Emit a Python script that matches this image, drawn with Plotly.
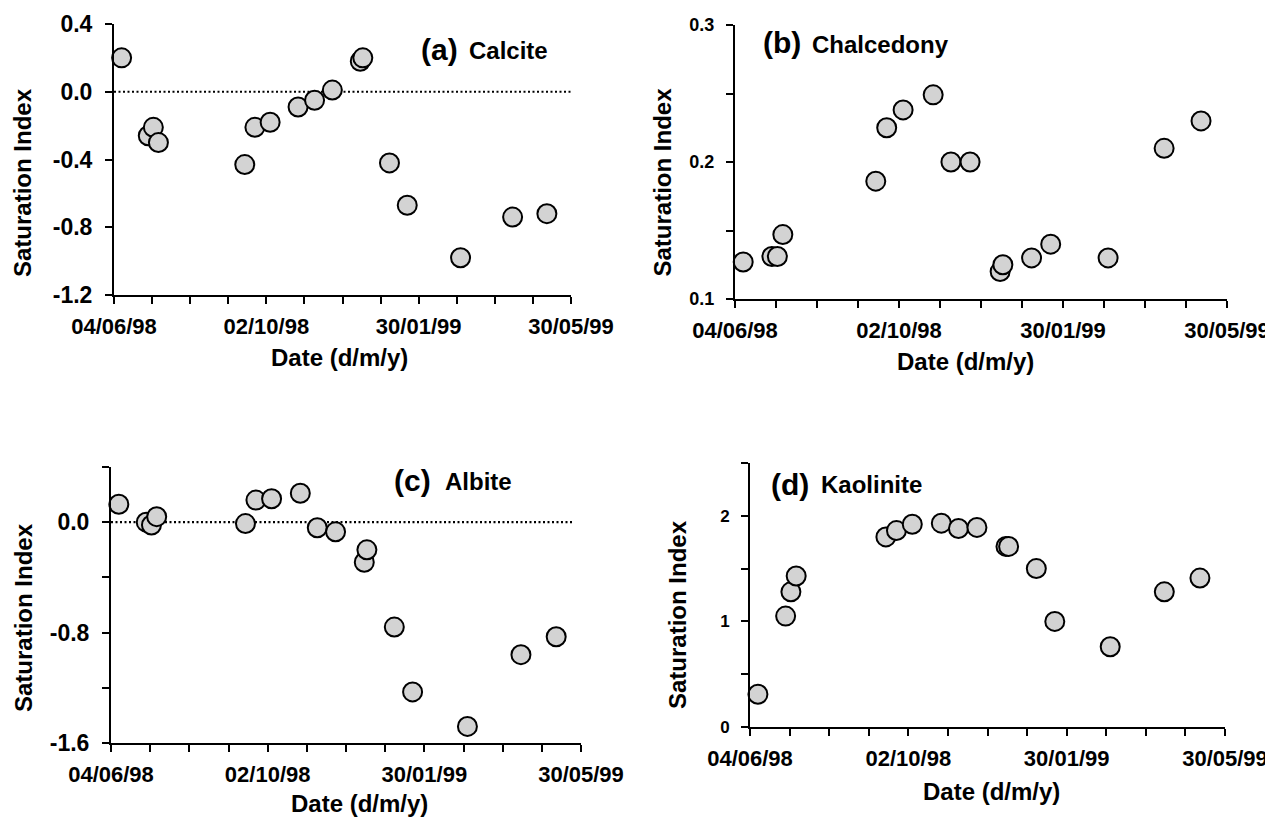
import plotly.graph_objects as go

# ---------------- data ----------------
SAMPLE_DATES = ['1998-06-10', '1998-07-01', '1998-07-05', '1998-07-09', '1998-09-15',
                '1998-09-23', '1998-10-05', '1998-10-27', '1998-11-09', '1998-11-23',
                '1998-12-15', '1998-12-17', '1999-01-07', '1999-01-21', '1999-03-04',
                '1999-04-14', '1999-05-11']
CALCITE = [0.20, -0.26, -0.21, -0.30, -0.43, -0.21, -0.18, -0.09, -0.05, 0.01,
           0.18, 0.20, -0.42, -0.67, -0.98, -0.74, -0.72]
CHALCEDONY = [0.127, 0.131, 0.131, 0.147, 0.186, 0.225, 0.238, 0.249, 0.200, 0.200,
              0.120, 0.125, 0.130, 0.140, 0.130, 0.210, 0.230]
ALBITE = [0.13, 0.00, -0.02, 0.04, -0.01, 0.16, 0.17, 0.21, -0.04, -0.07,
          -0.29, -0.20, -0.76, -1.23, -1.48, -0.96, -0.83]
KAOLINITE = [0.31, 1.05, 1.28, 1.43, 1.80, 1.86, 1.92, 1.93, 1.88, 1.89,
             1.71, 1.71, 1.50, 1.00, 0.76, 1.28, 1.41]

X_TICKS = ['1998-06-04', '1998-07-04', '1998-08-03', '1998-09-02', '1998-10-02',
           '1998-11-01', '1998-12-01', '1998-12-31', '1999-01-30', '1999-03-01',
           '1999-03-31', '1999-04-30', '1999-05-30']
X_LABELS = ['04/06/98', '', '', '', '02/10/98', '', '', '', '30/01/99', '', '', '', '30/05/99']
X_RANGE = ['1998-06-04', '1999-05-30']

YA_TICKS = [-1.2, -0.8, -0.4, 0.0, 0.4]
YA_LABELS = ['-1.2', '-0.8', '-0.4', '0.0', '0.4']
YB_TICKS = [0.1, 0.15, 0.2, 0.25, 0.3]
YB_LABELS = ['0.1', '', '0.2', '', '0.3']
YC_TICKS = [-1.6, -1.2, -0.8, -0.4, 0.0, 0.4]
YC_LABELS = ['-1.6', '', '-0.8', '', '0.0', '']
YD_TICKS = [0, 0.5, 1, 1.5, 2, 2.5]
YD_LABELS = ['0', '', '1', '', '2', '']

PANEL_LETTERS = ['(a)', '(b)', '(c)', '(d)']
MINERALS = ['Calcite', 'Chalcedony', 'Albite', 'Kaolinite']
X_TITLE = 'Date (d/m/y)'
Y_TITLE = 'Saturation Index'

# ---------------- layout helpers ----------------
W, H = 1273, 819
FONT = 'Liberation Sans, Arial, Helvetica, sans-serif'
TXT_SHIFT = 8  # annotation text renders a little below/right of its anchor


def px(x):
    return x / W


def py(y):
    return 1 - y / H


panels = [
    dict(vals=CALCITE, yt=YA_TICKS, yl=YA_LABELS, yr=[-1.2, 0.4], box=(106, 563, 16, 287), ytf=23,
         zero='1999-05-30', lab=(452, 459, 49, 50), xt=(331, 357), yti=(22, 175)),
    dict(vals=CHALCEDONY, yt=YB_TICKS, yl=YB_LABELS, yr=[0.1, 0.3], box=(727, 1219, 17, 291), ytf=18,
         zero=None, lab=(795, 802, 43, 44.5), xt=(957, 361), yti=(662, 174.5)),
    dict(vals=ALBITE, yt=YC_TICKS, yl=YC_LABELS, yr=[-1.6, 0.4], box=(103, 573, 459, 735), ytf=23,
         zero='1999-05-24', lab=(425, 435, 481, 481.5), xt=(351, 803), yti=(23, 610)),
    dict(vals=KAOLINITE, yt=YD_TICKS, yl=YD_LABELS, yr=[0, 2.5], box=(742, 1217, 455, 719), ytf=17,
         zero=None, lab=(803, 811, 484, 484.5), xt=(983, 791), yti=(677, 606)),
]

fig = go.Figure()
annotations = []
shapes = []
layout_axes = {}

for i, p in enumerate(panels):
    n = i + 1
    xa = 'x' if n == 1 else f'x{n}'
    ya = 'y' if n == 1 else f'y{n}'
    x0, x1, yt, yb = p['box']
    fig.add_trace(go.Scatter(
        x=SAMPLE_DATES, y=p['vals'], mode='markers', xaxis=xa, yaxis=ya,
        marker=dict(size=19, color='#d3d3d3', line=dict(color='black', width=2)),
        showlegend=False, cliponaxis=False))

    layout_axes['xaxis' if n == 1 else f'xaxis{n}'] = dict(
        domain=[px(x0), px(x1)], anchor=ya, type='date', range=X_RANGE, automargin=False,
        tickmode='array', tickvals=X_TICKS, ticktext=X_LABELS,
        ticks='outside', ticklen=7, tickwidth=2, tickcolor='black',
        showline=True, linewidth=2, linecolor='black', showgrid=False, zeroline=False,
        tickfont=dict(family=FONT, size=22, color='black', weight='bold'),
        ticklabelstandoff=4, fixedrange=True)
    layout_axes['yaxis' if n == 1 else f'yaxis{n}'] = dict(
        domain=[py(yb), py(yt)], anchor=xa, range=p['yr'], automargin=False,
        tickmode='array', tickvals=p['yt'], ticktext=p['yl'],
        ticks='outside', ticklen=7, tickwidth=2, tickcolor='black',
        showline=True, linewidth=2, linecolor='black', showgrid=False, zeroline=False,
        tickfont=dict(family=FONT, size=p['ytf'], color='black', weight='bold'),
        ticklabelstandoff=8, fixedrange=True)

    if p['zero'] is not None:
        shapes.append(dict(type='line', xref=xa, yref=ya, x0=X_RANGE[0], x1=p['zero'], y0=0, y1=0,
                           line=dict(color='black', width=2.2, dash='2px,2.5px'), layer='below'))

    lr, ll, ly1, ly2 = p['lab']
    annotations.append(dict(text=PANEL_LETTERS[i], x=px(lr), y=py(ly1 - TXT_SHIFT), xref='paper', yref='paper',
                            xanchor='right', yanchor='middle', showarrow=False,
                            font=dict(family=FONT, size=30, color='black', weight='bold')))
    annotations.append(dict(text=MINERALS[i], x=px(ll), y=py(ly2 - TXT_SHIFT), xref='paper', yref='paper',
                            xanchor='left', yanchor='middle', showarrow=False,
                            font=dict(family=FONT, size=24, color='black', weight='bold')))
    annotations.append(dict(text=X_TITLE, x=px(p['xt'][0]), y=py(p['xt'][1] - TXT_SHIFT),
                            xref='paper', yref='paper',
                            xanchor='center', yanchor='middle', showarrow=False,
                            font=dict(family=FONT, size=24, color='black', weight='bold')))
    annotations.append(dict(text=Y_TITLE, x=px(p['yti'][0] - TXT_SHIFT), y=py(p['yti'][1]),
                            xref='paper', yref='paper',
                            xanchor='center', yanchor='middle', showarrow=False, textangle=-90,
                            font=dict(family=FONT, size=24, color='black', weight='bold')))

fig.update_layout(
    width=W, height=H, margin=dict(l=0, r=0, t=0, b=0, autoexpand=False),
    paper_bgcolor='white', plot_bgcolor='white', showlegend=False,
    annotations=annotations, shapes=shapes, **layout_axes)

fig.write_html('out.html')
